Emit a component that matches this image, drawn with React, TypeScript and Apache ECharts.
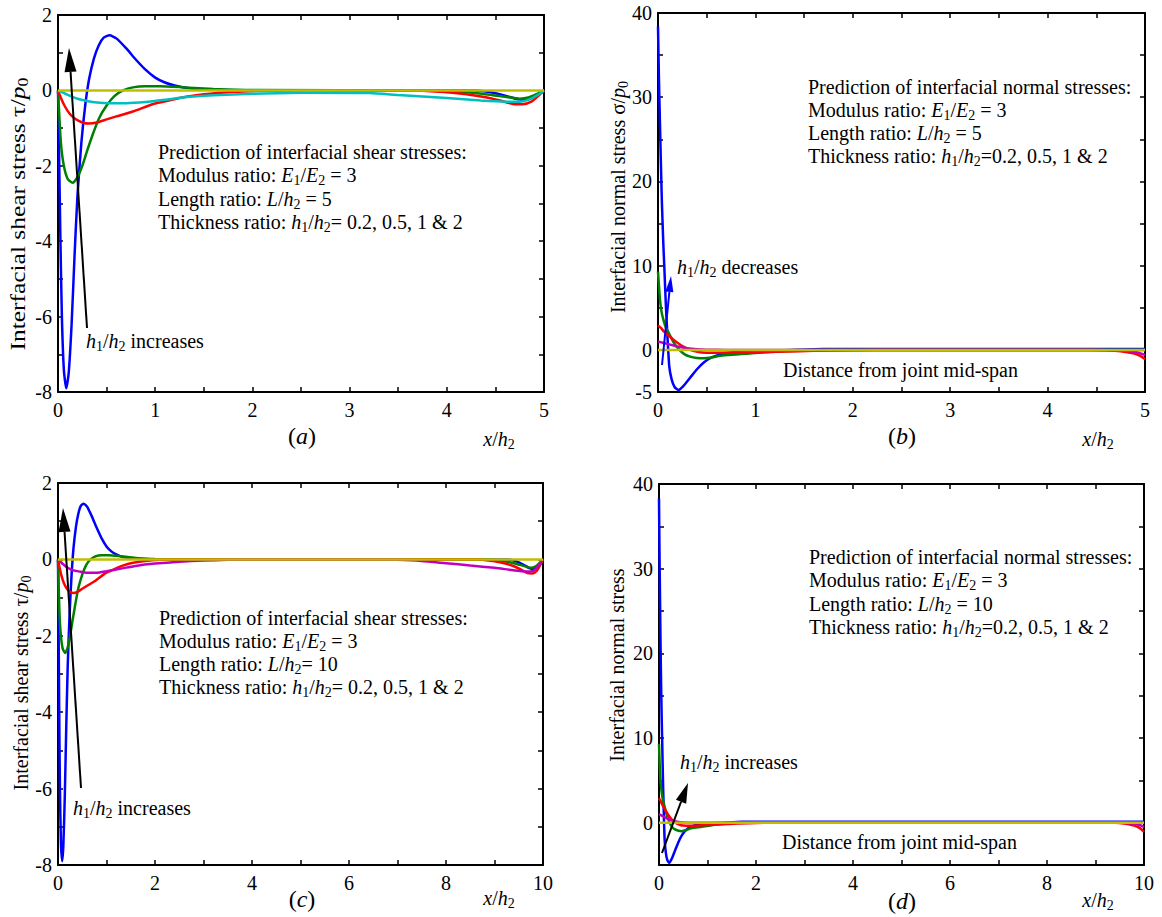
import React, { useEffect, useRef } from 'react';
import * as echarts from 'echarts';

type Pt = [number, number];

const FONT = 'Liberation Serif';
const BLUE = '#0000ff';
const GREEN = '#008000';
const RED = '#ff0000';
const CYAN = '#00bfbf';
const MAGENTA = '#bf00bf';
const YELLOW = '#bfbf00';

// ---------- (a) shear stress, L/h2 = 5 ----------
const aBlue: Pt[] = [[0,0],[0.01,-1.5],[0.025,-4.0],[0.04,-6.0],[0.06,-7.4],[0.085,-7.9],[0.11,-7.5],[0.14,-6.2],[0.17,-4.4],[0.2,-2.8],[0.24,-1.4],[0.28,-0.4],[0.32,0.3],[0.37,0.85],[0.42,1.2],[0.47,1.4],[0.53,1.46],[0.6,1.38],[0.7,1.12],[0.8,0.82],[0.9,0.55],[1.0,0.34],[1.1,0.21],[1.2,0.13],[1.35,0.06],[1.6,0.02],[2.0,0],[4.3,0],[4.45,-0.05],[4.6,-0.14],[4.72,-0.23],[4.8,-0.25],[4.88,-0.2],[4.95,-0.1],[5,0]];
const aGreen: Pt[] = [[0,0],[0.01,-0.5],[0.03,-1.4],[0.06,-2.0],[0.1,-2.35],[0.15,-2.45],[0.2,-2.3],[0.25,-2.0],[0.3,-1.6],[0.36,-1.15],[0.42,-0.75],[0.5,-0.4],[0.58,-0.15],[0.67,0],[0.77,0.08],[0.9,0.11],[1.05,0.11],[1.3,0.08],[1.6,0.04],[2.0,0.01],[3.8,0],[4.1,-0.03],[4.4,-0.1],[4.6,-0.17],[4.75,-0.22],[4.85,-0.18],[4.93,-0.09],[5,0]];
const aRed: Pt[] = [[0,0],[0.03,-0.2],[0.07,-0.42],[0.12,-0.62],[0.18,-0.76],[0.25,-0.85],[0.32,-0.88],[0.4,-0.85],[0.5,-0.77],[0.6,-0.69],[0.77,-0.56],[0.98,-0.36],[1.15,-0.26],[1.32,-0.17],[1.5,-0.1],[1.8,-0.04],[2.1,-0.01],[2.4,0],[3.7,0],[4.0,-0.05],[4.2,-0.1],[4.4,-0.18],[4.55,-0.27],[4.68,-0.36],[4.78,-0.37],[4.87,-0.3],[4.94,-0.15],[5,0]];
const aCyan: Pt[] = [[0,0],[0.05,-0.06],[0.1,-0.12],[0.2,-0.22],[0.3,-0.28],[0.4,-0.32],[0.53,-0.34],[0.7,-0.34],[0.9,-0.31],[1.1,-0.25],[1.3,-0.18],[1.6,-0.13],[2.0,-0.09],[2.5,-0.06],[3.2,-0.07],[3.5,-0.12],[4.0,-0.2],[4.35,-0.27],[4.6,-0.3],[4.75,-0.3],[4.85,-0.24],[4.93,-0.13],[5,0]];
const aYellow: Pt[] = [[0,0],[5,0]];

// ---------- (b) normal stress, L/h2 = 5 ----------
const bBlue: Pt[] = [[0,38.4],[0.01,32],[0.02,27],[0.03,22],[0.04,17.5],[0.055,12.5],[0.065,9.8],[0.08,5.5],[0.095,2],[0.116,-2],[0.14,-3.5],[0.17,-4.4],[0.21,-4.75],[0.26,-4.3],[0.33,-3.3],[0.4,-2.3],[0.47,-1.5],[0.55,-0.9],[0.65,-0.5],[0.8,-0.25],[1.0,-0.1],[1.3,-0.03],[1.7,0.1],[5,0.1]];
const bGreen: Pt[] = [[0,9.3],[0.01,7.6],[0.02,6.0],[0.035,4.6],[0.055,3.6],[0.08,2.7],[0.12,1.8],[0.16,0.9],[0.22,0],[0.27,-0.5],[0.33,-0.8],[0.4,-0.95],[0.47,-1.0],[0.55,-0.9],[0.64,-0.7],[0.8,-0.55],[0.91,-0.45],[1.08,-0.3],[1.3,-0.15],[1.6,-0.05],[2,0],[5,0]];
const bRed: Pt[] = [[0,2.9],[0.03,2.6],[0.06,2.2],[0.1,1.8],[0.15,1.3],[0.2,0.85],[0.25,0.45],[0.3,0.15],[0.36,-0.1],[0.45,-0.3],[0.55,-0.35],[0.7,-0.35],[0.9,-0.3],[1.1,-0.25],[1.3,-0.2],[1.6,-0.1],[2,-0.03],[2.5,0],[4.4,0],[4.6,-0.05],[4.75,-0.15],[4.88,-0.4],[4.95,-0.7],[5,-1.1]];
const bMagenta: Pt[] = [[0,1.0],[0.05,0.85],[0.1,0.7],[0.15,0.55],[0.2,0.4],[0.3,0.2],[0.4,0.08],[0.5,0.02],[0.7,0],[4.5,0],[4.8,-0.1],[4.92,-0.3],[5,-0.6]];
const bYellow: Pt[] = [[0,0],[5,0]];

// ---------- (c) shear stress, L/h2 = 10 ----------
const cBlue: Pt[] = [[0,0],[0.01,-1.5],[0.025,-4.0],[0.04,-6.0],[0.06,-7.4],[0.085,-7.9],[0.11,-7.5],[0.14,-6.2],[0.17,-4.4],[0.2,-2.8],[0.24,-1.4],[0.28,-0.4],[0.32,0.3],[0.37,0.85],[0.42,1.2],[0.47,1.4],[0.53,1.46],[0.6,1.38],[0.7,1.12],[0.8,0.82],[0.9,0.55],[1.0,0.34],[1.1,0.21],[1.2,0.13],[1.35,0.06],[1.6,0.02],[2.0,0],[9.3,0],[9.45,-0.05],[9.6,-0.14],[9.72,-0.23],[9.8,-0.25],[9.88,-0.2],[9.95,-0.1],[10,0]];
const cGreen: Pt[] = [[0,0],[0.01,-0.5],[0.03,-1.4],[0.06,-2.0],[0.1,-2.35],[0.15,-2.45],[0.2,-2.3],[0.25,-2.0],[0.3,-1.6],[0.36,-1.15],[0.42,-0.75],[0.5,-0.4],[0.58,-0.15],[0.67,0],[0.77,0.08],[0.9,0.11],[1.05,0.11],[1.3,0.08],[1.6,0.04],[2.0,0.01],[8.8,0],[9.1,-0.03],[9.4,-0.1],[9.6,-0.17],[9.75,-0.22],[9.85,-0.18],[9.93,-0.09],[10,0]];
const cRed: Pt[] = [[0,0],[0.03,-0.2],[0.07,-0.42],[0.12,-0.62],[0.18,-0.76],[0.25,-0.85],[0.32,-0.88],[0.4,-0.85],[0.5,-0.77],[0.6,-0.69],[0.77,-0.56],[0.98,-0.36],[1.15,-0.26],[1.32,-0.17],[1.5,-0.1],[1.8,-0.04],[2.1,-0.01],[2.4,0],[8.7,0],[9.0,-0.05],[9.2,-0.1],[9.4,-0.18],[9.55,-0.27],[9.68,-0.36],[9.78,-0.37],[9.87,-0.3],[9.94,-0.15],[10,0]];
const cMagenta: Pt[] = [[0,0],[0.05,-0.06],[0.1,-0.12],[0.2,-0.22],[0.3,-0.28],[0.45,-0.32],[0.6,-0.35],[0.8,-0.35],[1.0,-0.31],[1.3,-0.24],[1.6,-0.17],[2.0,-0.11],[2.5,-0.06],[3.0,-0.03],[3.5,-0.01],[4,0],[6.5,0],[7,-0.01],[7.5,-0.04],[8,-0.1],[8.5,-0.16],[9,-0.22],[9.3,-0.27],[9.55,-0.31],[9.75,-0.32],[9.85,-0.25],[9.93,-0.13],[10,0]];
const cYellow: Pt[] = [[0,0],[10,0]];

// ---------- (d) normal stress, L/h2 = 10 ----------
const dBlue: Pt[] = [[0,38.3],[0.01,32],[0.02,27],[0.03,22],[0.04,17.5],[0.055,12.5],[0.065,9.8],[0.08,5.5],[0.095,2],[0.116,-2],[0.14,-3.5],[0.17,-4.4],[0.21,-4.75],[0.26,-4.3],[0.33,-3.3],[0.4,-2.3],[0.47,-1.5],[0.55,-0.9],[0.65,-0.5],[0.8,-0.25],[1.0,-0.1],[1.3,-0.03],[1.7,0.1],[10,0.1]];
const dGreen: Pt[] = [[0,9.3],[0.01,7.6],[0.02,6.0],[0.035,4.6],[0.055,3.6],[0.08,2.7],[0.12,1.8],[0.16,0.9],[0.22,0],[0.27,-0.5],[0.33,-0.8],[0.4,-0.95],[0.47,-1.0],[0.55,-0.9],[0.64,-0.7],[0.8,-0.55],[0.91,-0.45],[1.08,-0.3],[1.3,-0.15],[1.6,-0.05],[2,0],[10,0]];
const dRed: Pt[] = [[0,2.9],[0.03,2.6],[0.06,2.2],[0.1,1.8],[0.15,1.3],[0.2,0.85],[0.25,0.45],[0.3,0.15],[0.36,-0.1],[0.45,-0.3],[0.55,-0.35],[0.7,-0.35],[0.9,-0.3],[1.1,-0.25],[1.3,-0.2],[1.6,-0.1],[2,-0.03],[2.5,0],[9.4,0],[9.6,-0.1],[9.8,-0.35],[9.93,-0.7],[10,-1.1]];
const dMagenta: Pt[] = [[0,1.0],[0.05,0.85],[0.1,0.7],[0.15,0.55],[0.2,0.4],[0.3,0.2],[0.4,0.08],[0.5,0.02],[0.7,0],[9.5,0],[9.8,-0.1],[9.92,-0.3],[10,-0.5]];
const dYellow: Pt[] = [[0,0],[10,0]];

// ---------- axes ----------
const xRangeShort = { min: 0, max: 5, interval: 0.5 };
const xRangeLong = { min: 0, max: 10, interval: 1 };
const yRangeShear = { min: -8, max: 2, interval: 1 };
const yRangeNormal = { min: -5, max: 40, interval: 5 };

const isInt = (v: number) => Math.abs(v - Math.round(v)) < 1e-6;
const isEven = (v: number) => isInt(v) && Math.round(v) % 2 === 0;
const fmtInt = (v: number) => (isInt(v) ? String(Math.round(v)) : '');
const fmtEven = (v: number) => (isEven(v) ? String(Math.round(v)) : '');
const fmtTenB = (v: number) => (Math.round(v) === -5 || (isInt(v) && Math.round(v) % 10 === 0) ? String(Math.round(v)) : '');
const fmtTenD = (v: number) => (isInt(v) && Math.round(v) % 10 === 0 && v >= 0 ? String(Math.round(v)) : '');

const GRIDS = [
  { left: 58, top: 15, width: 486, height: 377 },
  { left: 658, top: 13, width: 487, height: 379 },
  { left: 58, top: 483, width: 485, height: 382 },
  { left: 659, top: 484, width: 485, height: 381 },
];

const RICH: any = {
  i: { fontFamily: FONT, fontSize: 20, fontStyle: 'italic', fill: '#000' },
  I: { fontFamily: FONT, fontSize: 24, fontStyle: 'italic', fill: '#000' },
  s: { fontFamily: FONT, fontSize: 14, verticalAlign: 'bottom', height: 12, fill: '#000' },
  g: { fontFamily: FONT, fontSize: 21, fill: '#000' },
};

function axisPair(kind: 'x' | 'y', gi: number, range: any, fmt: (v: number) => string) {
  const common = {
    type: 'value',
    gridIndex: gi,
    ...range,
    splitLine: { show: false },
    axisLine: { show: true, onZero: false, lineStyle: { color: '#000', width: 2 } },
    axisTick: { show: true, inside: true, length: 5, lineStyle: { color: '#000', width: 1.5 } },
  };
  const main = {
    ...common,
    position: kind === 'x' ? 'bottom' : 'left',
    axisLabel: { show: true, color: '#000', fontFamily: FONT, fontSize: 20, margin: kind === 'x' ? 8 : 6, formatter: fmt },
  };
  const mirror = {
    ...common,
    position: kind === 'x' ? 'top' : 'right',
    axisLabel: { show: false },
  };
  return [main, mirror];
}

function line(gi: number, data: Pt[], color: string) {
  return {
    type: 'line',
    xAxisIndex: gi * 2,
    yAxisIndex: gi * 2,
    data,
    symbol: 'none',
    showSymbol: false,
    smooth: 0.2,
    silent: true,
    lineStyle: { color, width: 2.5 },
  };
}

function txt(x: number, y: number, text: string, opt: any = {}) {
  return {
    type: 'text',
    x,
    y,
    rotation: opt.rot || 0,
    scaleX: opt.scaleX || 1,
    silent: true,
    z: 60,
    style: {
      text,
      fill: opt.color || '#000',
      fontFamily: FONT,
      fontSize: opt.size || 20,
      fontStyle: opt.italic ? 'italic' : 'normal',
      lineHeight: 22,
      align: opt.align || 'left',
      verticalAlign: 'middle',
      rich: RICH,
    },
  };
}

function arrow(tail: Pt, tip: Pt, headLen: number, headW: number, color: string, lw: number) {
  const dx = tip[0] - tail[0];
  const dy = tip[1] - tail[1];
  const L = Math.hypot(dx, dy);
  const ux = dx / L;
  const uy = dy / L;
  const bx = tip[0] - ux * headLen;
  const by = tip[1] - uy * headLen;
  const px = -uy;
  const py = ux;
  return [
    { type: 'line', silent: true, z: 55, shape: { x1: tail[0], y1: tail[1], x2: bx, y2: by }, style: { stroke: color, lineWidth: lw } },
    {
      type: 'polygon', silent: true, z: 55,
      shape: { points: [tip, [bx + (px * headW) / 2, by + (py * headW) / 2], [bx - (px * headW) / 2, by - (py * headW) / 2]] },
      style: { fill: color },
    },
  ];
}

const H12 = '{i|h}{s|1}/{i|h}{s|2}';
const shearLines5 = ['Prediction of interfacial shear stresses:', 'Modulus ratio: {i|E}{s|1}/{i|E}{s|2} = 3', 'Length ratio: {i|L}/{i|h}{s|2} = 5', 'Thickness ratio: ' + H12 + '= 0.2, 0.5, 1 & 2'];
const normalLines5 = ['Prediction of interfacial normal stresses:', 'Modulus ratio: {i|E}{s|1}/{i|E}{s|2} = 3', 'Length ratio: {i|L}/{i|h}{s|2} = 5', 'Thickness ratio: ' + H12 + '=0.2, 0.5, 1 & 2'];
const shearLines10 = ['Prediction of interfacial shear stresses:', 'Modulus ratio: {i|E}{s|1}/{i|E}{s|2} = 3', 'Length ratio: {i|L}/{i|h}{s|2}= 10', 'Thickness ratio: ' + H12 + '= 0.2, 0.5, 1 & 2'];
const normalLines10 = ['Prediction of interfacial normal stresses:', 'Modulus ratio: {i|E}{s|1}/{i|E}{s|2} = 3', 'Length ratio: {i|L}/{i|h}{s|2} = 10', 'Thickness ratio: ' + H12 + '=0.2, 0.5, 1 & 2'];

function block(x: number, ys: number[], lines: string[]) {
  return lines.map((t, k) => txt(x, ys[k], t));
}

export default function App() {
  const ref = useRef<HTMLDivElement>(null);
  useEffect(() => {
    if (!ref.current) return;
    const chart = echarts.init(ref.current, undefined, { renderer: 'svg' });
    const [ax0, ax1] = axisPair('x', 0, xRangeShort, fmtInt);
    const [ay0, ay1] = axisPair('y', 0, yRangeShear, fmtEven);
    const [bx0, bx1] = axisPair('x', 1, xRangeShort, fmtInt);
    const [by0, by1] = axisPair('y', 1, yRangeNormal, fmtTenB);
    const [cx0, cx1] = axisPair('x', 2, xRangeLong, fmtEven);
    const [cy0, cy1] = axisPair('y', 2, yRangeShear, fmtEven);
    const [dx0, dx1] = axisPair('x', 3, xRangeLong, fmtEven);
    const [dy0, dy1] = axisPair('y', 3, yRangeNormal, fmtTenD);

    const graphic: any[] = [
      // y-axis names
      txt(18, 214, 'Interfacial shear stress {g|τ}/{i|p}{s|0}', { rot: Math.PI / 2, align: 'center', scaleX: 1.27 }),
      txt(618, 197, 'Interfacial normal stress {g|σ}/{i|p}{s|0}', { rot: Math.PI / 2, align: 'center' }),
      txt(21, 683, 'Interfacial shear stress {g|τ}/{i|p}{s|0}', { rot: Math.PI / 2, align: 'center' }),
      txt(617, 665, 'Interfacial normal stress', { rot: Math.PI / 2, align: 'center' }),
      // panel tags and x names
      txt(302, 436, '({I|a})', { size: 24, align: 'center' }),
      txt(499, 439, '{i|x}/{i|h}{s|2}', { align: 'center' }),
      txt(902, 436, '({I|b})', { size: 24, align: 'center' }),
      txt(1098, 439, '{i|x}/{i|h}{s|2}', { align: 'center' }),
      txt(302, 899, '({I|c})', { size: 24, align: 'center' }),
      txt(499, 898, '{i|x}/{i|h}{s|2}', { align: 'center' }),
      txt(902, 901, '({I|d})', { size: 24, align: 'center' }),
      txt(1098, 900, '{i|x}/{i|h}{s|2}', { align: 'center' }),
      // text blocks
      ...block(158, [152, 175, 199, 222], shearLines5),
      ...block(808, [87, 110, 133, 156], normalLines5),
      ...block(159, [618, 641, 664, 687], shearLines10),
      ...block(809, [557, 580, 604, 627], normalLines10),
      // annotations
      txt(86, 341, H12 + ' increases'),
      txt(677, 267, H12 + ' decreases'),
      txt(783, 370, 'Distance from joint mid-span'),
      txt(73, 808, H12 + ' increases'),
      txt(680, 762, H12 + ' increases'),
      txt(782, 842, 'Distance from joint mid-span'),
      // arrows
      ...arrow([87, 328], [69, 48], 24, 12, '#000', 2),
      ...arrow([662, 365], [671, 276], 16, 8, BLUE, 2),
      ...arrow([81, 788], [63, 508], 24, 12, '#000', 2),
      ...arrow([662, 853], [688, 783], 20, 11, '#000', 2),
    ];

    chart.setOption({
      animation: false,
      backgroundColor: '#ffffff',
      textStyle: { fontFamily: FONT },
      grid: GRIDS.map((g) => ({ ...g, containLabel: false, show: false })),
      xAxis: [ax0, ax1, bx0, bx1, cx0, cx1, dx0, dx1],
      yAxis: [ay0, ay1, by0, by1, cy0, cy1, dy0, dy1],
      series: [
        line(0, aBlue, BLUE), line(0, aGreen, GREEN), line(0, aRed, RED), line(0, aCyan, CYAN), line(0, aYellow, YELLOW),
        line(1, bBlue, BLUE), line(1, bGreen, GREEN), line(1, bRed, RED), line(1, bMagenta, MAGENTA), line(1, bYellow, YELLOW),
        line(2, cBlue, BLUE), line(2, cGreen, GREEN), line(2, cRed, RED), line(2, cMagenta, MAGENTA), line(2, cYellow, YELLOW),
        line(3, dBlue, BLUE), line(3, dGreen, GREEN), line(3, dRed, RED), line(3, dMagenta, MAGENTA), line(3, dYellow, YELLOW),
      ],
      graphic,
    });
    return () => chart.dispose();
  }, []);
  return <div ref={ref} style={{ position: 'absolute', left: 0, top: 0, width: 1162, height: 917, background: '#fff' }} />;
}
